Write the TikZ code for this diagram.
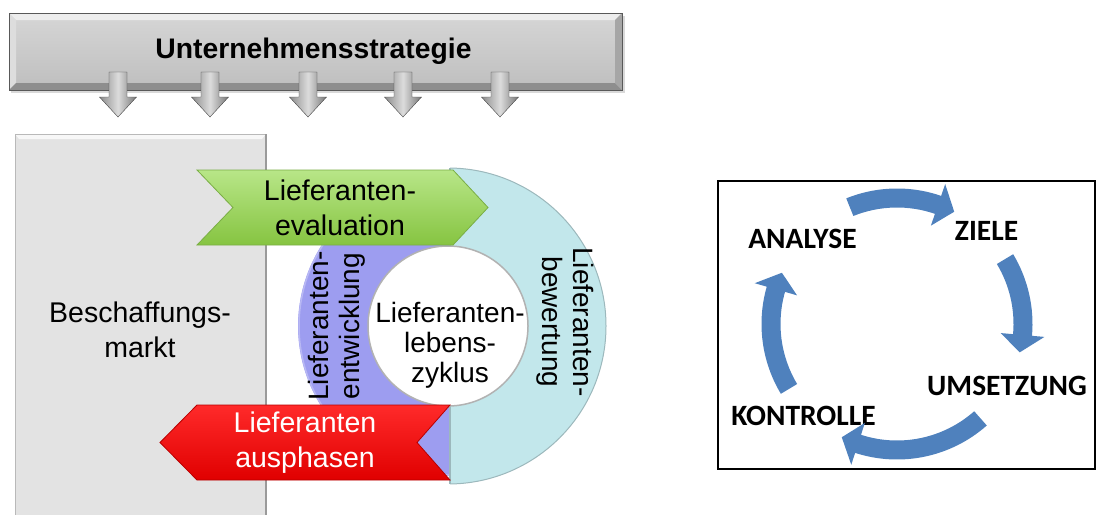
\documentclass[tikz,border=0pt]{standalone}
\usepackage{fontspec}
\setmainfont{Liberation Sans}
\newfontfamily\cyclefont{Carlito}
\usetikzlibrary{calc}

\definecolor{bartop}{HTML}{D6D6D6}
\definecolor{barbottom}{HTML}{BEBEBE}
\definecolor{bevellight}{HTML}{EDEDED}
\definecolor{beveldark}{HTML}{8E8E8E}
\definecolor{bevelside}{HTML}{A6A6A6}
\definecolor{arrowlight}{HTML}{DCDCDC}
\definecolor{arrowdark}{HTML}{8C8C8C}
\definecolor{marketfill}{HTML}{E3E3E3}
\definecolor{marketedge}{HTML}{9A9A9A}
\definecolor{greenlight}{HTML}{B8E688}
\definecolor{greendark}{HTML}{86C441}
\definecolor{greenedge}{HTML}{7AAE45}
\definecolor{redlight}{HTML}{FF2A2A}
\definecolor{reddark}{HTML}{E00000}
\definecolor{rededge}{HTML}{B80000}
\definecolor{purplering}{HTML}{9D9DF0}
\definecolor{purpleedge}{HTML}{B8B8F4}
\definecolor{cyanring}{HTML}{C2E7EB}
\definecolor{cyanedge}{HTML}{9CB8BC}
\definecolor{cycblue}{HTML}{4F81BD}

% one curved arrow of the management cycle: start angle, head base angle, tip angle
\newcommand\cycarrow[3]{%
  \fill[cycblue] (#1:135.5) arc[start angle=#1, end angle=#2, radius=135.5]
    -- (#2:148) -- (#3:126) -- (#2:104) -- (#2:116.5)
    arc[start angle=#2, end angle=#1, radius=116.5] -- cycle;}

\begin{document}
\begin{tikzpicture}[x=1pt,y=-1pt,
  lbl/.style={font=\fontsize{28.5}{35}\selectfont, align=center, inner sep=0pt},
  vlbl/.style={font=\fontsize{28}{31}\selectfont, align=center, inner sep=0pt},
  cyclbl/.style={font=\cyclefont\bfseries\fontsize{29.5}{33}\selectfont, anchor=base, inner sep=0pt},
  downarrow/.style={left color=arrowdark, right color=arrowdark!85!black,
    middle color=arrowlight, draw=gray!55!black, line width=0.4pt}]
\useasboundingbox (0,0) rectangle (1097,514);

% ---- strategy bar with bevelled edges
\fill[gray!30] (11,16) rectangle (625,93);
\shade[top color=bartop, bottom color=barbottom] (9,13) rectangle (622,90);
\fill[bevellight] (9,13) -- (622,13) -- (615,20) -- (16,20) -- cycle;
\fill[bevellight!85!gray] (9,13) -- (16,20) -- (16,83) -- (9,90) -- cycle;
\fill[beveldark] (9,90) -- (622,90) -- (615,83) -- (16,83) -- cycle;
\fill[bevelside] (622,13) -- (622,90) -- (615,83) -- (615,20) -- cycle;
\draw[gray!70!black, line width=0.5pt] (9,13) rectangle (622,90);
\node[font=\bfseries\fontsize{28.3}{32}\selectfont, anchor=base, inner sep=0pt]
  (strategy) at (313.5,58) {Unternehmensstrategie};

% ---- arrows from the strategy down to the processes
\foreach \ax in {118,210,308,403,500} {
  \shade[downarrow] (\ax-9,72) -- (\ax+9,72) -- (\ax+9,97) -- (\ax+18.5,97)
    -- (\ax,117) -- (\ax-18.5,97) -- (\ax-9,97) -- cycle;
}

% ---- procurement market
\fill[marketfill] (15,134) rectangle (266,530);
\fill[white!70!marketfill] (15,134) -- (266,134) -- (262,139) -- (19,139) -- cycle;
\draw[gray!55, line width=1pt] (15,530) -- (15,134) -- (266,134);
\draw[marketedge, line width=2pt] (266,134) -- (266,530);
\node[lbl] (market) at (140,330) {Beschaffungs-\\markt};

% ---- supplier life cycle ring
\coordinate (hub) at (448,326);
\begin{scope}
  \clip (450,150) rectangle (625,505);
  \fill[cyanring, even odd rule] (hub) circle[radius=158] (hub) circle[radius=80];
  \draw[cyanedge, line width=1pt] (hub) circle[radius=158];
\end{scope}
\begin{scope}
  \clip (280,150) rectangle (450,505);
  \fill[purplering, even odd rule] (hub) circle[radius=150] (hub) circle[radius=80];
  \draw[purpleedge, line width=1.5pt] (hub) circle[radius=149];
\end{scope}
\draw[cyanedge, line width=1.2pt] (450,168) -- (450,484);
\node[circle, fill=white, draw=gray!60, line width=1.5pt, minimum size=160pt,
  inner sep=0pt] (core) at (hub) {};
\node[lbl, font=\fontsize{28}{30}\selectfont] (coretext) at (450,345)
  {Lieferanten-\\lebens-\\zyklus};

\node[vlbl, rotate=90] (develop) at (337,326) {Lieferanten-\\entwicklung};
\node[vlbl, rotate=-90] (rating) at (565,322) {Lieferanten-\\bewertung};

% ---- evaluation (green) and phase-out (red) banners
\shade[top color=greenlight, bottom color=greendark, draw=greenedge, line width=0.8pt]
  (197,170) -- (453,170) -- (488,207.5) -- (453,245) -- (197,245) -- (233,207.5) -- cycle;
\node[lbl] (evaluation) at (340,207.5) {Lieferanten-\\evaluation};

\shade[top color=redlight, bottom color=reddark, draw=rededge, line width=0.8pt]
  (450,405) -- (197,405) -- (160,442.5) -- (197,480) -- (450,480) -- (417,442.5) -- cycle;
\node[lbl, text=white] (phaseout) at (305,442.5) {Lieferanten\\ausphasen};

% ---- management cycle
\draw[line width=2pt] (718,181) rectangle (1095,469);
\node[cyclbl] (analyse) at (802.5,248) {ANALYSE};
\node[cyclbl] (ziele) at (986.5,240) {ZIELE};
\node[cyclbl] (umsetzung) at (1007,395) {UMSETZUNG};
\node[cyclbl] (kontrolle) at (803.5,425) {KONTROLLE};

\begin{scope}[shift={(897,324)}]
  \cycarrow{-112}{-71}{-63}
  \cycarrow{-31}{5}{13}
  \cycarrow{48.5}{108}{116}
  \cycarrow{149}{196}{204}
\end{scope}
\end{tikzpicture}
\end{document}
